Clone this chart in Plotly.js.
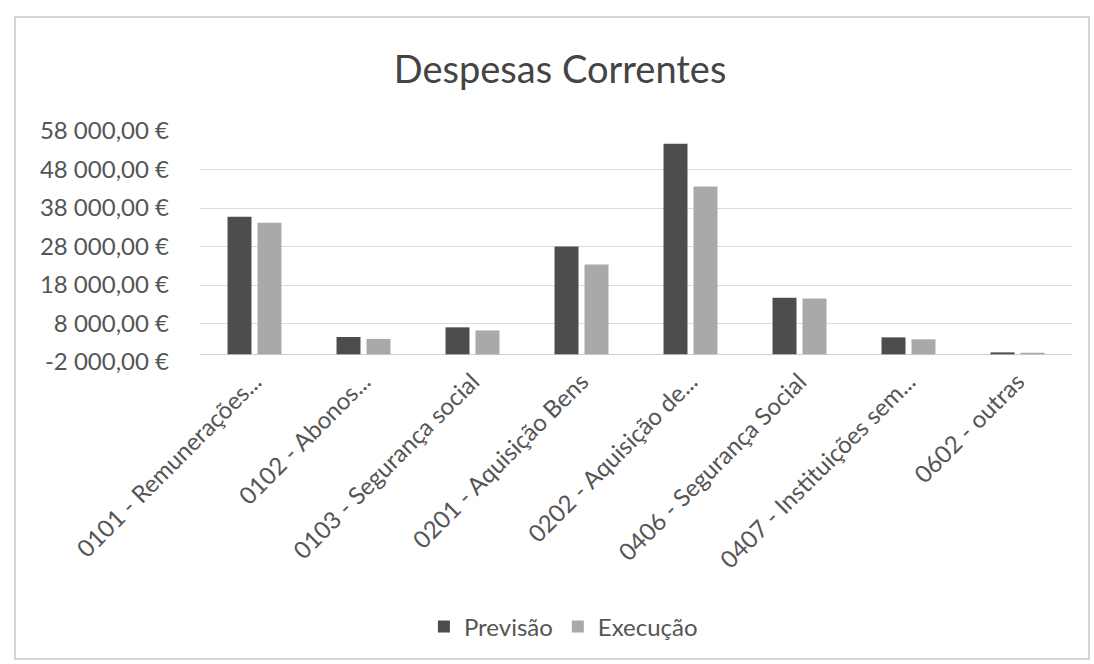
<!DOCTYPE html>
<html>
<head>
<meta charset="utf-8">
<script src="https://cdn.plot.ly/plotly-3.0.1.min.js"></script>
<style>
  html, body { margin: 0; padding: 0; background: #ffffff; }
  #wrap { position: relative; width: 1094px; height: 664px; }
  #chart { width: 1094px; height: 664px; }
  #frame { position: absolute; left: 14px; top: 16px; width: 1072px; height: 640px;
           border: 2px solid #d6d6d6; pointer-events: none; }
</style>
</head>
<body>
<div id="wrap">
  <div id="chart"></div>
  <div id="frame"></div>
</div>
<script>
const categories = [
  "0101 - Remunerações...",
  "0102 - Abonos...",
  "0103 - Segurança social",
  "0201 - Aquisição Bens",
  "0202 - Aquisição de...",
  "0406 - Segurança Social",
  "0407 - Instituições sem...",
  "0602 - outras"
];
const previsao = [35700, 4500, 7000, 28000, 54700, 14700, 4400, 500];
const execucao = [34200, 4000, 6200, 23300, 43600, 14500, 3900, 400];
const yTickVals = [-2000, 8000, 18000, 28000, 38000, 48000, 58000];
const yTickText = ["-2 000,00 €", "8 000,00 €", "18 000,00 €", "28 000,00 €", "38 000,00 €", "48 000,00 €", "58 000,00 €"];

const FONT = "Lato, 'Open Sans', sans-serif";
const TXT = "#555555";

const traces = [
  { type: "bar", name: "Previsão", x: categories, y: previsao,
    marker: { color: "#4d4d4d" } },
  { type: "bar", name: "Execução", x: categories, y: execucao,
    marker: { color: "#a9a9a9" } }
];

const layout = {
  width: 1094, height: 664,
  paper_bgcolor: "#ffffff", plot_bgcolor: "#ffffff",
  margin: { l: 200, r: 22, t: 131, b: 302 },
  font: { family: FONT, color: TXT, size: 24 },
  title: { text: "Despesas Correntes", font: { family: FONT, size: 38, color: "#444444" },
           xref: "container", yref: "container", x: 0.512, xanchor: "center",
           y: 0.895, yanchor: "middle" },
  barmode: "group", bargap: 0.45, bargroupgap: 0.2,
  xaxis: { type: "category", tickangle: -45, showgrid: false, showline: false,
           ticks: "", tickfont: { family: FONT, size: 24, color: TXT } },
  yaxis: { range: [-2000, 58000], tickmode: "array", tickvals: yTickVals, ticktext: yTickText,
           showgrid: true, gridcolor: "#dcdcdc", gridwidth: 1,
           zeroline: true, zerolinecolor: "#d0d0d0", zerolinewidth: 1,
           showline: false, ticks: "", ticklabelstandoff: 30,
           tickfont: { family: FONT, size: 24, color: TXT } },
  legend: { orientation: "h", xref: "container", yref: "container",
            x: 0.515, xanchor: "center", y: 0.056, yanchor: "middle",
            font: { family: FONT, size: 24, color: TXT }, itemwidth: 30,
            traceorder: "normal" },
  showlegend: true
};

Plotly.newPlot("chart", traces, layout, { displayModeBar: false, staticPlot: true });
</script>
</body>
</html>
